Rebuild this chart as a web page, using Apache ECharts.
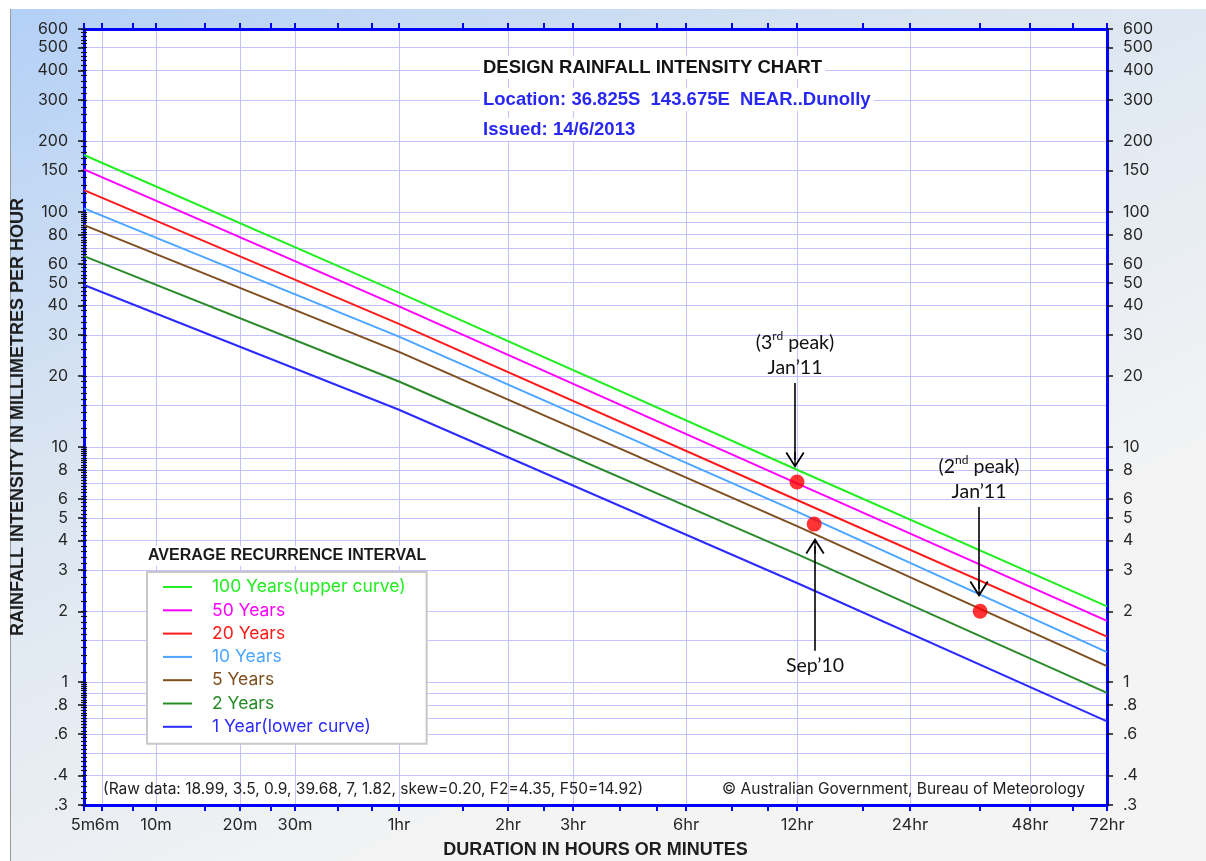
<!DOCTYPE html>
<html>
<head>
<meta charset="utf-8">
<title>Design Rainfall Intensity Chart</title>
<script src="https://cdn.jsdelivr.net/npm/echarts@6/dist/echarts.min.js"></script>
<style>
  html, body { margin: 0; padding: 0; background: #fff; }
  #chart { width: 1206px; height: 861px; }
</style>
</head>
<body>
<div id="chart"></div>
<script>
// ---- data (durations in minutes, intensities in mm/h) ----
const durations = [5, 60, 720, 4320];
const ari100 = [174.6, 45.4, 8.0, 2.1];
const ari50 = [151.8, 39.68, 7.0, 1.82];
const ari20 = [123.9, 33.4, 5.95, 1.56];
const ari10 = [103.6, 29.5, 5.31, 1.34];
const ari5 = [87.9, 25.4, 4.61, 1.17];
const ari2 = [64.9, 18.99, 3.5, 0.9];
const ari1 = [48.9, 14.4, 2.64, 0.68];

const seriesNames = ['100 Years(upper curve)', '50 Years', '20 Years', '10 Years', '5 Years', '2 Years', '1 Year(lower curve)'];
const seriesValues = [ari100, ari50, ari20, ari10, ari5, ari2, ari1];
const seriesColors = ['#22ee22', '#ff00ff', '#ff1a1a', '#4ca6ff', '#7f4f1f', '#2a8a2a', '#2b2bff'];

// observed events
const peakMinutes = [720, 800, 2160];
const peakIntensity = [7.1, 4.7, 2.0];
const arrowMinutes = [711, 804, 2146];
const arrowFrom = [18.7, 1.36, 5.56];
const arrowTo = [8.8, 3.79, 2.49];

// axis ticks
const durationTicks = [5, 6, 10, 20, 30, 60, 120, 180, 360, 720, 1440, 2880, 4320];
const durationLabels = ['5m', '6m', '10m', '20m', '30m', '1hr', '2hr', '3hr', '6hr', '12hr', '24hr', '48hr', '72hr'];
const minorDurations = [8, 15, 25, 40, 50, 90, 150, 240, 300, 480, 600, 1080, 2160, 3600];
const yLabelValues = [0.3, 0.4, 0.6, 0.8, 1, 2, 3, 4, 5, 6, 8, 10, 20, 30, 40, 50, 60, 80, 100, 150, 200, 300, 400, 500, 600];
const yGridValues = [0.4, 0.5, 0.6, 0.7, 0.8, 0.9, 1, 1.5, 2, 3, 4, 5, 6, 7, 8, 9, 10, 15, 20, 30, 40, 50, 60, 70, 80, 90, 100, 150, 200, 300, 400, 500];

// the BoM duration axis is a stretched log scale; axis units 0..1000 at each labelled tick
const durationScale = [0, 17.6, 70.4, 152.5, 206.3, 307.9, 414.5, 478.0, 588.5, 697.0, 807.4, 924.7, 1000];

function toAxis(m) {
  const lm = Math.log10(m);
  const n = durationTicks.length;
  for (let i = 0; i < n - 1; i++) {
    const a = Math.log10(durationTicks[i]);
    const b = Math.log10(durationTicks[i + 1]);
    if (lm <= b || i === n - 2) {
      return durationScale[i] + (lm - a) / (b - a) * (durationScale[i + 1] - durationScale[i]);
    }
  }
}

// minor y ticks: 1-2 by .1, 2-10 by .2 in each decade
const yMinorValues = [];
[0.1, 1, 10, 100].forEach(d => {
  for (let k = 10; k < 20; k++) yMinorValues.push(+(k * d / 10).toPrecision(3));
  for (let k = 20; k < 100; k += 2) yMinorValues.push(+(k * d / 10).toPrecision(3));
});

const majorX = durationTicks.map(toAxis);
const allX = durationTicks.concat(minorDurations).map(toAxis);

const sans = 'Liberation Sans';
const regular = 'Inter';

function fmtY(v) {
  const s = String(+(+v).toPrecision(3));
  return s.charAt(0) === '0' ? s.slice(1) : s;
}
function fmtX(v) {
  let best = 0;
  majorX.forEach((x, i) => { if (Math.abs(x - v) < Math.abs(majorX[best] - v)) best = i; });
  return durationLabels[best];
}

const chart = echarts.init(document.getElementById('chart'));

const yCommon = { type: 'log', logBase: 10, min: 0.3, max: 600, gridIndex: 0 };
const xCommon = { type: 'value', min: 0, max: 1000, gridIndex: 0 };
const xLabelStyle = { formatter: fmtX, margin: 12, hideOverlap: false, showMinLabel: true, showMaxLabel: true,
  fontFamily: regular, fontSize: 16.5, color: '#262626' };
const yLabelStyle = { customValues: yLabelValues, formatter: fmtY, margin: 16, hideOverlap: false,
  showMinLabel: true, showMaxLabel: true, fontFamily: regular, fontSize: 16, color: '#262626' };

// an extra bottom axis that only carries one label (5m and 6m sit too close to share one axis)
function labelOnlyAxis(idx, padding) {
  return Object.assign({}, xCommon, {
    position: 'bottom',
    axisLine: { show: false },
    axisTick: { show: false, customValues: [majorX[idx]] },
    axisLabel: Object.assign({ show: true, customValues: [majorX[idx]], padding: padding }, xLabelStyle),
    splitLine: { show: false }
  });
}

const lineSeries = seriesNames.map((name, i) => ({
  name: name,
  type: 'line',
  xAxisIndex: 0,
  yAxisIndex: 0,
  showSymbol: false,
  symbol: 'none',
  silent: true,
  z: 3,
  lineStyle: { color: seriesColors[i], width: 2 },
  itemStyle: { color: seriesColors[i] },
  data: durations.map((d, j) => [toAxis(d), seriesValues[i][j]])
}));

const chevron = 'path://M10,0 L20,15 L18.4,16 L10,3.4 L1.6,16 L0,15 Z M9.3,2 L10.7,2 L10.7,16 L9.3,16 Z';

const annText = ['{t|(3}{s|rd}{t| peak)}\n{t|Jan\u201911}', '{t|Sep\u201910}', '{t|(2}{s|nd}{t| peak)}\n{t|Jan\u201911}'];

const peakSeries = {
  name: 'peaks',
  type: 'scatter',
  xAxisIndex: 0,
  yAxisIndex: 0,
  symbol: 'circle',
  symbolSize: 15,
  silent: true,
  z: 5,
  itemStyle: { color: '#ff0000' },
  data: peakMinutes.map((m, i) => [toAxis(m), peakIntensity[i]]),
  markLine: {
    silent: true,
    animation: false,
    symbol: ['none', chevron],
    symbolSize: [19, 16],
    lineStyle: { color: '#000', width: 1.6, type: 'solid' },
    label: {
      show: true,
      position: 'start',
      distance: 3,
      rich: {
        t: { fontFamily: 'Lato', fontSize: 19.5, lineHeight: 25, color: '#111' },
        s: { fontFamily: 'Lato', fontSize: 12, lineHeight: 14, verticalAlign: 'top', color: '#111' }
      }
    },
    data: arrowMinutes.map((m, i) => [
      { coord: [toAxis(m), arrowFrom[i]], label: { formatter: () => annText[i] } },
      { coord: [toAxis(m), arrowTo[i]] }
    ])
  }
};

const option = {
  animation: false,
  backgroundColor: '#ffffff',
  grid: {
    left: 84, top: 29, width: 1023, height: 776,
    containLabel: false, outerBoundsMode: 'none',
    show: true, backgroundColor: '#ffffff', borderWidth: 0
  },
  title: [
    { text: 'DESIGN RAINFALL INTENSITY CHART', left: 480, top: 56, padding: [2, 3],
      backgroundColor: '#fff',
      textStyle: { fontFamily: sans, fontWeight: 'bold', fontSize: 18.5, color: '#141414' } },
    { text: 'Location: 36.825S  143.675E  NEAR..Dunolly', left: 480, top: 88, padding: [2, 3],
      backgroundColor: '#fff',
      textStyle: { fontFamily: sans, fontWeight: 'bold', fontSize: 18.5, color: '#2828f2' } },
    { text: 'Issued: 14/6/2013', left: 480, top: 118, padding: [2, 3],
      backgroundColor: '#fff',
      textStyle: { fontFamily: sans, fontWeight: 'bold', fontSize: 18.5, color: '#2828f2' } },
    { text: 'AVERAGE RECURRENCE INTERVAL', left: 145, top: 546, padding: [2, 3],
      backgroundColor: '#fff',
      textStyle: { fontFamily: sans, fontWeight: 'bold', fontSize: 16, color: '#1a1a1a' } }
  ],
  legend: {
    orient: 'vertical',
    left: 147,
    top: 572,
    padding: [6, 21, 8, 16],
    backgroundColor: '#ffffff',
    borderColor: '#c8c8c8',
    borderWidth: 2,
    icon: 'rect',
    itemWidth: 29,
    itemHeight: 2,
    itemGap: 5.3,
    selectedMode: false,
    textStyle: { fontFamily: regular, fontSize: 17.5, lineHeight: 18, padding: [0, 0, 0, 15] },
    data: seriesNames.map((n, i) => ({ name: n, textStyle: { color: seriesColors[i] } }))
  },
  xAxis: [
    Object.assign({}, xCommon, { // grid lines at labelled durations
      position: 'bottom', show: true,
      axisLine: { show: false }, axisLabel: { show: false },
      axisTick: { show: false, customValues: majorX },
      splitLine: { show: true, lineStyle: { color: '#c3c3ff', width: 1 } }
    }),
    Object.assign({}, xCommon, {
      position: 'bottom',
      name: 'DURATION IN HOURS OR MINUTES',
      nameLocation: 'middle',
      nameGap: 36,
      nameTextStyle: { fontFamily: sans, fontWeight: 'bold', fontSize: 18, color: '#1e1e1e' },
      axisLine: { show: true, onZero: false, lineStyle: { color: '#0000ff', width: 3 } },
      axisTick: { show: true, inside: false, length: 6, customValues: allX, lineStyle: { color: '#0000ff', width: 2 } },
      axisLabel: Object.assign({ show: true, customValues: majorX.slice(2) }, xLabelStyle),
      splitLine: { show: false }
    }),
    labelOnlyAxis(0, [0, 2, 0, 0]),
    labelOnlyAxis(1, [0, 0, 0, 10]),
    Object.assign({}, xCommon, {
      position: 'top',
      axisLine: { show: true, onZero: false, lineStyle: { color: '#0000ff', width: 3 } },
      axisTick: { show: true, inside: false, length: 6, customValues: allX, lineStyle: { color: '#0000ff', width: 2 } },
      axisLabel: { show: false },
      splitLine: { show: false }
    })
  ],
  yAxis: [
    Object.assign({}, yCommon, { // y grid lines
      position: 'left',
      axisLine: { show: false }, axisLabel: { show: false },
      axisTick: { show: false, customValues: yGridValues },
      splitLine: { show: true, lineStyle: { color: '#c3c3ff', width: 1 } }
    }),
    Object.assign({}, yCommon, {
      position: 'left',
      name: 'RAINFALL INTENSITY IN MILLIMETRES PER HOUR',
      nameLocation: 'middle',
      nameGap: 54,
      nameTextStyle: { fontFamily: sans, fontWeight: 'bold', fontSize: 18, color: '#1e1e1e' },
      axisLine: { show: true, onZero: false, lineStyle: { color: '#0000ff', width: 3 } },
      axisTick: { show: true, length: 6, customValues: yLabelValues, lineStyle: { color: '#111', width: 1.5 } },
      axisLabel: yLabelStyle,
      splitLine: { show: false }
    }),
    Object.assign({}, yCommon, {
      position: 'left',
      axisLine: { show: false },
      axisTick: { show: true, length: 3, customValues: yMinorValues, lineStyle: { color: '#111', width: 1.2 } },
      axisLabel: { show: false },
      splitLine: { show: false }
    }),
    Object.assign({}, yCommon, {
      position: 'right',
      axisLine: { show: true, onZero: false, lineStyle: { color: '#0000ff', width: 3 } },
      axisTick: { show: true, length: 6, customValues: yLabelValues, lineStyle: { color: '#111', width: 1.5 } },
      axisLabel: yLabelStyle,
      splitLine: { show: false }
    }),
    Object.assign({}, yCommon, {
      position: 'right',
      axisLine: { show: false },
      axisTick: { show: true, length: 3, customValues: yMinorValues, lineStyle: { color: '#111', width: 1.2 } },
      axisLabel: { show: false },
      splitLine: { show: false }
    })
  ],
  graphic: [
    { type: 'rect', z: -100, silent: true,
      shape: { x: 11, y: 9, width: 1195, height: 852 },
      style: { fill: new echarts.graphic.LinearGradient(0, 0, 0.35, 1, [
        { offset: 0, color: '#b3d0f7' },
        { offset: 0.45, color: '#dae5f1' },
        { offset: 1, color: '#f4f4f4' }
      ]) } },
    { type: 'line', z: -99, silent: true,
      shape: { x1: 10.5, y1: 9, x2: 10.5, y2: 861 },
      style: { stroke: '#9a9a9a', lineWidth: 1 } },
    { type: 'text', z: 50, silent: true, x: 103, y: 789,
      style: { text: '(Raw data: 18.99, 3.5, 0.9, 39.68, 7, 1.82, skew=0.20, F2=4.35, F50=14.92)',
        fontFamily: regular, fontSize: 15.5, fill: '#222', verticalAlign: 'middle' } },
    { type: 'text', z: 50, silent: true, x: 722, y: 789,
      style: { text: '\u00a9 Australian Government, Bureau of Meteorology',
        fontFamily: regular, fontSize: 15.5, fill: '#222', verticalAlign: 'middle' } }
  ],
  series: lineSeries.concat([peakSeries])
};

chart.setOption(option);
</script>
</body>
</html>
